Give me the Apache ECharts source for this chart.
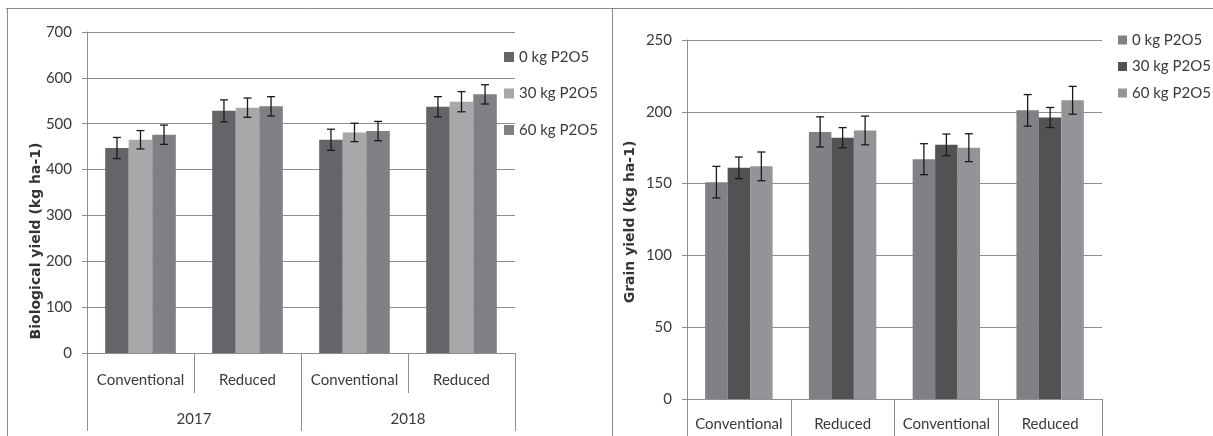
<!DOCTYPE html>
<html><head><meta charset="utf-8">
<script src="https://cdn.jsdelivr.net/npm/echarts@6/dist/echarts.min.js"></script>
<style>html,body{margin:0;padding:0;background:#fff}#c{width:1213px;height:436px}</style>
</head><body><div id="c"></div>
<script>
const treatments = ['Conventional', 'Reduced', 'Conventional', 'Reduced'];
const years = ['2017', '2018'];
const seriesNames = ['0 kg P2O5', '30 kg P2O5', '60 kg P2O5'];
const bioTicks = [0, 100, 200, 300, 400, 500, 600, 700];
const grainTicks = [0, 50, 100, 150, 200, 250];

const bio0 = [447, 528, 465, 537];
const bio30 = [465, 535, 481, 548];
const bio60 = [476, 538, 484, 564];
const bio0Err = [23, 24, 23, 22];
const bio30Err = [20, 21, 20, 22];
const bio60Err = [21, 21, 21, 21];

const grain0 = [151, 186, 167, 201];
const grain30 = [161, 182, 177, 196];
const grain60 = [162, 187, 175, 208];
const grain0Err = [11, 10.5, 10.8, 11];
const grain30Err = [7.5, 7, 7.5, 7];
const grain60Err = [10, 10, 9.7, 9.7];

const leftColors = ['#646568', '#a7a8aa', '#7f8083'];
const rightColors = ['#808184', '#515254', '#939497'];
const txt = '#3a3a3a';
const axisCol = '#8e8e8e';
const tickFont = 'Lato';

const leftGap = 0.34, rightGap = 0.35;

function errData(vals, errs) {
  const out = [];
  vals.forEach((arr, si) => arr.forEach((v, ci) => out.push([ci, si, v, errs[si][ci]])));
  return out;
}
function errRender(gap) {
  return function (params, api) {
    const ci = api.value(0), si = api.value(1), v = api.value(2), e = api.value(3);
    const c = api.coord([ci, v]);
    const catW = api.size([1, 0])[0];
    const bw = catW * (1 - gap) / 3;
    const x = c[0] + (si - 1) * bw;
    const yt = api.coord([ci, v + e])[1];
    const yb = api.coord([ci, v - e])[1];
    const cap = 4;
    const st = { stroke: '#1a1a1a', lineWidth: 1.3 };
    return { type: 'group', children: [
      { type: 'line', shape: { x1: x, y1: yt, x2: x, y2: yb }, style: st },
      { type: 'line', shape: { x1: x - cap, y1: yt, x2: x + cap, y2: yt }, style: st },
      { type: 'line', shape: { x1: x - cap, y1: yb, x2: x + cap, y2: yb }, style: st }
    ]};
  };
}

const bioVals = [bio0, bio30, bio60];
const bioErrs = [bio0Err, bio30Err, bio60Err];
const grainVals = [grain0, grain30, grain60];
const grainErrs = [grain0Err, grain30Err, grain60Err];

const series = [];
seriesNames.forEach((n, i) => {
  series.push({ name: n, type: 'bar', xAxisIndex: 0, yAxisIndex: 0, data: bioVals[i],
    barGap: '0%', barCategoryGap: (leftGap * 100) + '%', itemStyle: { color: leftColors[i] }, animation: false });
});
seriesNames.forEach((n, i) => {
  series.push({ name: n, type: 'bar', xAxisIndex: 2, yAxisIndex: 1, data: grainVals[i],
    barGap: '0%', barCategoryGap: (rightGap * 100) + '%', itemStyle: { color: rightColors[i] }, animation: false });
});
series.push({ type: 'custom', xAxisIndex: 0, yAxisIndex: 0, renderItem: errRender(leftGap),
  data: errData(bioVals, bioErrs), encode: { x: 0, y: 2 }, z: 10, animation: false, silent: true });
series.push({ type: 'custom', xAxisIndex: 2, yAxisIndex: 1, renderItem: errRender(rightGap),
  data: errData(grainVals, grainErrs), encode: { x: 0, y: 2 }, z: 10, animation: false, silent: true });

const chart = echarts.init(document.getElementById('c'), null, { renderer: 'canvas' });
chart.setOption({
  animation: false,
  backgroundColor: '#fff',
  grid: [
    { left: 87, right: 1213 - 515, top: 32, bottom: 436 - 353, containLabel: false },
    { left: 687, right: 1213 - 1102, top: 40, bottom: 436 - 399, containLabel: false }
  ],
  xAxis: [
    { type: 'category', gridIndex: 0, data: treatments, position: 'bottom',
      axisLine: { lineStyle: { color: axisCol } },
      axisTick: { show: true, interval: 0, length: 40, lineStyle: { color: axisCol } },
      axisLabel: { interval: 0, margin: 20, color: txt, fontFamily: tickFont, fontSize: 15 } },
    { type: 'category', gridIndex: 0, data: years, position: 'bottom',
      axisLine: { show: false },
      axisTick: { show: true, interval: 0, length: 78, lineStyle: { color: axisCol } },
      axisLabel: { interval: 0, margin: 59, color: txt, fontFamily: tickFont, fontSize: 15 } },
    { type: 'category', gridIndex: 1, data: treatments, position: 'bottom',
      axisLine: { lineStyle: { color: axisCol } },
      axisTick: { show: true, interval: 0, length: 40, lineStyle: { color: axisCol } },
      axisLabel: { interval: 0, margin: 18, color: txt, fontFamily: tickFont, fontSize: 15 } }
  ],
  yAxis: [
    { type: 'value', gridIndex: 0, min: bioTicks[0], max: bioTicks[bioTicks.length - 1], interval: 100,
      axisLine: { show: true, lineStyle: { color: axisCol } },
      axisTick: { show: true, length: 5, lineStyle: { color: axisCol } },
      splitLine: { lineStyle: { color: axisCol } },
      axisLabel: { margin: 15, color: txt, fontFamily: tickFont, fontSize: 15 } },
    { type: 'value', gridIndex: 1, min: grainTicks[0], max: grainTicks[grainTicks.length - 1], interval: 50,
      axisLine: { show: true, lineStyle: { color: axisCol } },
      axisTick: { show: true, length: 5, lineStyle: { color: axisCol } },
      splitLine: { lineStyle: { color: axisCol } },
      axisLabel: { margin: 15, color: txt, fontFamily: tickFont, fontSize: 15 } }
  ],
  legend: [
    { orient: 'vertical', left: 504, top: 49, padding: 0, itemWidth: 10, itemHeight: 10, itemGap: 20.5, icon: 'rect',
      selectedMode: false,
      textStyle: { color: txt, fontFamily: tickFont, fontSize: 15, lineHeight: 16 },
      data: seriesNames.map((n, i) => ({ name: n, itemStyle: { color: leftColors[i] } })) },
    { orient: 'vertical', left: 1118, top: 32, padding: 0, itemWidth: 9, itemHeight: 9, itemGap: 10.5, icon: 'rect',
      selectedMode: false,
      textStyle: { color: txt, fontFamily: tickFont, fontSize: 15, lineHeight: 16 },
      data: seriesNames.map((n, i) => ({ name: n, itemStyle: { color: rightColors[i] } })) }
  ],
  graphic: [
    { type: 'line', shape: { x1: 6, y1: 8.5, x2: 1213, y2: 8.5 }, style: { stroke: '#8a8a8a', lineWidth: 1 }, silent: true },
    { type: 'line', shape: { x1: 7.5, y1: 8, x2: 7.5, y2: 436 }, style: { stroke: '#8a8a8a', lineWidth: 1 }, silent: true },
    { type: 'line', shape: { x1: 612.5, y1: 8, x2: 612.5, y2: 436 }, style: { stroke: '#8a8a8a', lineWidth: 1 }, silent: true },
    { type: 'text', x: 36, y: 241, rotation: Math.PI / 2,
      style: { text: 'Biological yield (kg ha-1)', fontFamily: 'DejaVu Sans', fontWeight: 'bold', fontSize: 14,
        fill: '#333', align: 'center', verticalAlign: 'middle' } },
    { type: 'text', x: 630, y: 222, rotation: Math.PI / 2,
      style: { text: 'Grain yield (kg ha-1)', fontFamily: 'DejaVu Sans', fontWeight: 'bold', fontSize: 14,
        fill: '#333', align: 'center', verticalAlign: 'middle' } }
  ],
  series: series
});
</script></body></html>
